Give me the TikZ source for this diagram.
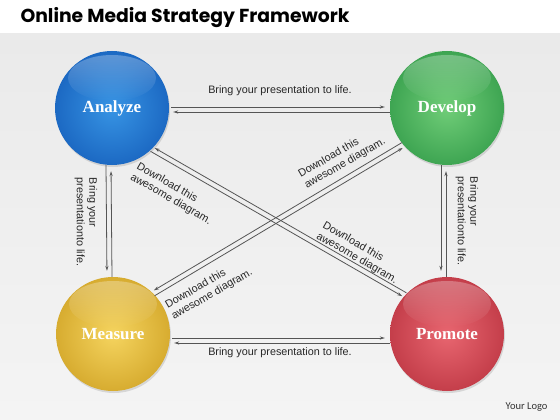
\documentclass[tikz,border=0pt]{standalone}
\usepackage{fontspec}
\setmainfont{Liberation Sans}
\newfontfamily\titlefont{Poppins}
\newfontfamily\ballfont{Liberation Serif}
\newfontfamily\logofont{Carlito}
\usetikzlibrary{positioning,arrows.meta,shadows,fadings}

\definecolor{blueIn}{RGB}{55,148,228}
\definecolor{blueOut}{RGB}{28,105,195}
\definecolor{greenIn}{RGB}{112,205,120}
\definecolor{greenOut}{RGB}{62,165,82}
\definecolor{yellowIn}{RGB}{245,212,95}
\definecolor{yellowOut}{RGB}{215,172,48}
\definecolor{redIn}{RGB}{232,102,112}
\definecolor{redOut}{RGB}{196,62,74}
\definecolor{linkgray}{RGB}{85,85,85}
\definecolor{bgTop}{RGB}{234,234,234}
\definecolor{bgBot}{RGB}{244,244,244}

\begin{document}
\begin{tikzpicture}[x=1pt,y=-1pt,
  >={Stealth[length=5pt,width=3.2pt]},
  ball/.style={circle,minimum size=114pt,inner sep=0pt,text=white,
    font=\ballfont\bfseries\fontsize{17}{17}\selectfont,
    drop shadow={opacity=.25,shadow xshift=1pt,shadow yshift=-2pt}},
  link/.style={draw=linkgray,line width=.8pt},
  note/.style={font=\fontsize{10.8}{12.5}\selectfont,text=black!85,align=left,inner sep=0pt}]
  \useasboundingbox (0,0) rectangle (560,420);
  \fill[white] (0,0) rectangle (560,420);
  \shade[top color=bgTop,bottom color=bgBot] (0,34) rectangle (560,420);

  \node[anchor=base west,font=\titlefont\bfseries\fontsize{18.8}{19}\selectfont] (title) at (17,23) {Online Media Strategy Framework};

  % the four balls
  \node[ball,inner color=blueIn,outer color=blueOut] (an) at (112,108) {Analyze};
  \node[ball,inner color=greenIn,outer color=greenOut] (dev) at (447,108) {Develop};
  \node[ball,inner color=yellowIn,outer color=yellowOut] (meas) at (113,334) {Measure};
  \node[ball,inner color=redIn,outer color=redOut] (prom) at (447,334) {Promote};
  \foreach \n in {an,dev,meas,prom}
    \fill[white,path fading=south,fill opacity=.28] ([yshift=30pt]\n.center) ellipse [x radius=44pt,y radius=23pt];

  % horizontal links
  \draw[link,->,shorten <=2pt,shorten >=5pt] ([yshift=1pt]an.east) -- ([yshift=1pt]dev.west);
  \draw[link,<-,shorten <=4pt] ([yshift=-4pt]an.east) -- ([yshift=-4pt]dev.west);
  \draw[link,->,shorten <=2pt,shorten >=5pt] ([yshift=-4pt]meas.east) -- ([yshift=-4pt]prom.west);
  \draw[link,<-,shorten <=4pt] ([yshift=-9pt]meas.east) -- ([yshift=-9pt]prom.west);

  % vertical links
  \draw[link,->,shorten >=6pt] ([xshift=-6pt]an.south) -- ([xshift=-6pt]meas.north);
  \draw[link,<-,shorten <=6pt] ([xshift=-1pt]an.south) -- ([xshift=-1pt]meas.north);
  \draw[link,->,shorten >=6pt] ([xshift=-6pt]dev.south) -- ([xshift=-6pt]prom.north);
  \draw[link,<-,shorten <=6pt] ([xshift=-1pt]dev.south) -- ([xshift=-1pt]prom.north);

  % diagonal links
  \draw[link,<-,shorten <=2pt] ([shift={(60:2.5pt)}]an.-46) -- ([shift={(60:2.5pt)}]prom.137);
  \draw[link,->,shorten >=2pt] ([shift={(240:2.5pt)}]an.-46) -- ([shift={(240:2.5pt)}]prom.137);
  \draw[link,->,shorten >=2pt] ([shift={(120:2.5pt)}]dev.220) -- ([shift={(120:2.5pt)}]meas.45);
  \draw[link,<-,shorten <=2pt] ([shift={(300:2.5pt)}]dev.220) -- ([shift={(300:2.5pt)}]meas.45);

  % labels
  \node[note] (ad) at (280,91) {Bring your presentation to life.};
  \node[note] (mp) at (280,353) {Bring your presentation to life.};
  \node[note,rotate=-90] (am) at (86,222) {Bring your\\presentationto life.};
  \node[note,rotate=-90] (dp) at (467,221) {Bring your\\presentationto life.};
  \node[note,rotate=-30] (ap1) at (174,194) {Download this\\awesome diagram.};
  \node[note,rotate=-30] (ap2) at (360,253) {Download this\\awesome diagram.};
  \node[note,rotate=30] (md1) at (342,158) {Download this\\awesome diagram.};
  \node[note,rotate=30] (md2) at (209,289) {Download this\\awesome diagram.};

  \node[anchor=east,font=\logofont\fontsize{10.5}{11}\selectfont,text=black!80] (logo) at (551,407) {Your Logo};
\end{tikzpicture}
\end{document}
